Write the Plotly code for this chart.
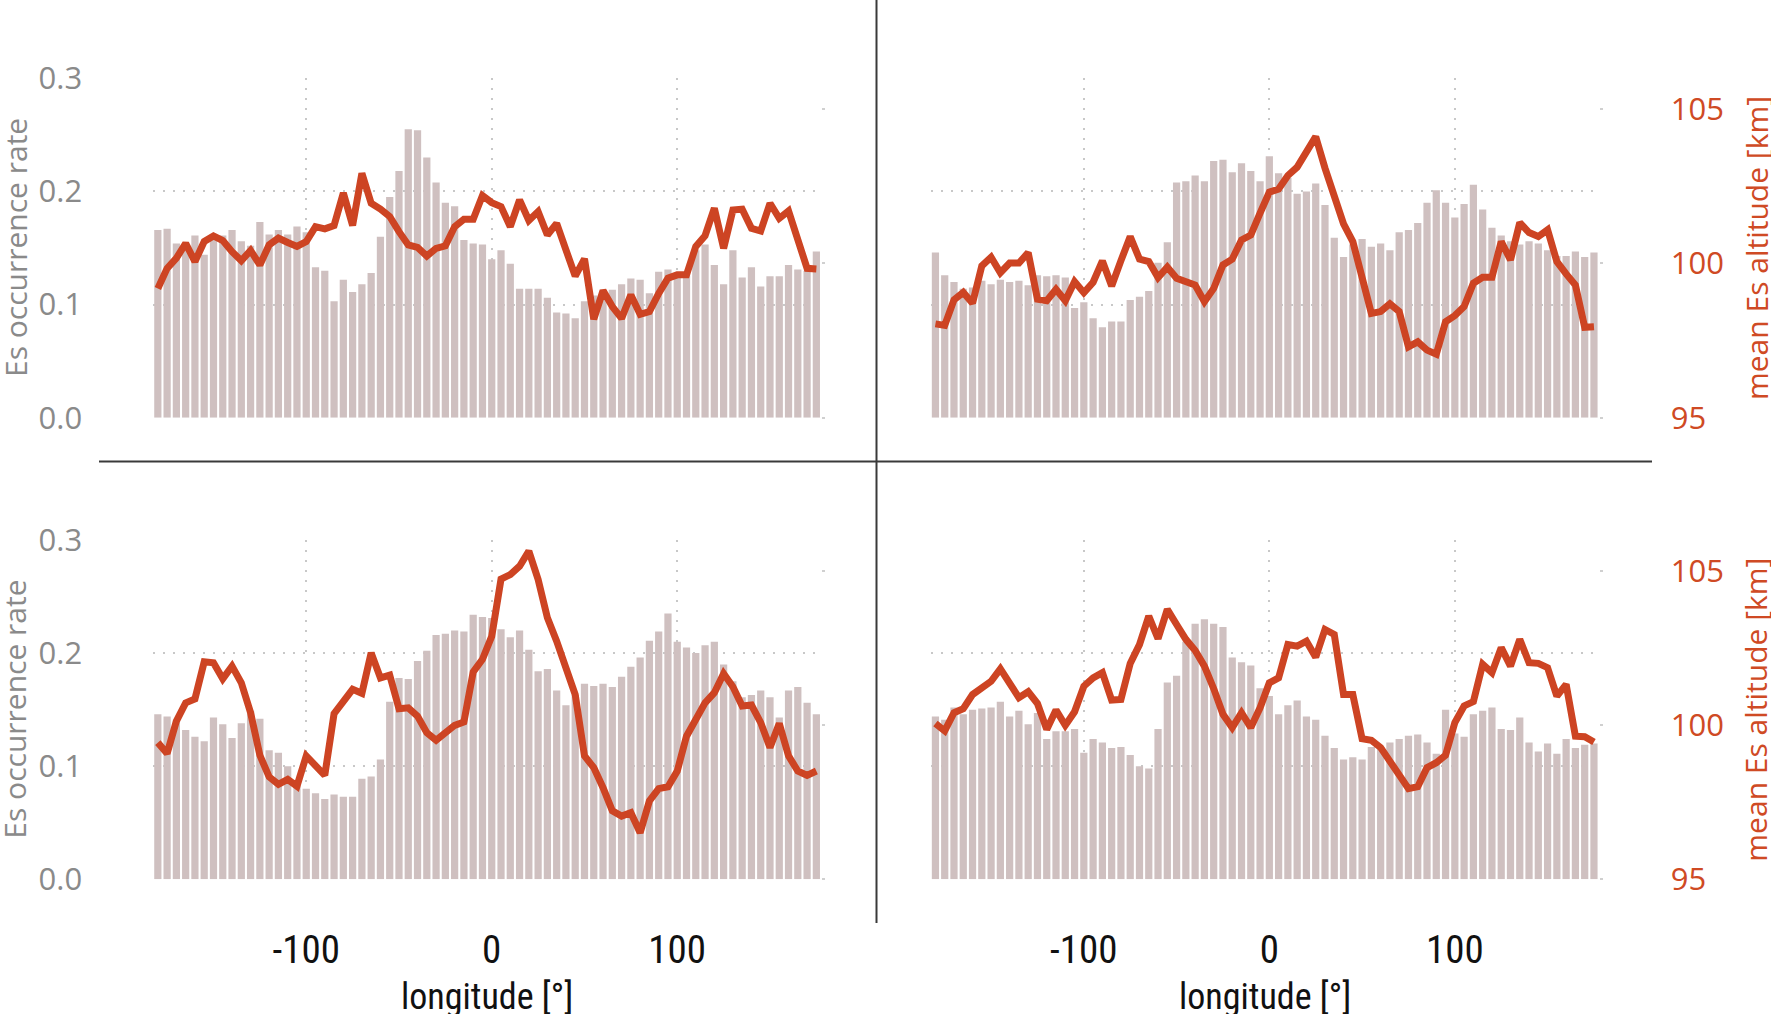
import plotly.graph_objects as go

longitude = list(range(-180, 180, 5))

# top-left panel
rate_tl = [0.166, 0.167, 0.154, 0.153, 0.161, 0.144, 0.161, 0.161, 0.166, 0.156,
           0.152, 0.173, 0.162, 0.166, 0.162, 0.169, 0.164, 0.133, 0.130, 0.103,
           0.122, 0.111, 0.118, 0.128, 0.160, 0.195, 0.218, 0.255, 0.254, 0.230,
           0.208, 0.190, 0.187, 0.157, 0.154, 0.153, 0.140, 0.148, 0.136, 0.114,
           0.114, 0.114, 0.106, 0.093, 0.092, 0.088, 0.103, 0.108, 0.108, 0.113,
           0.118, 0.123, 0.122, 0.110, 0.129, 0.131, 0.128, 0.128, 0.148, 0.153,
           0.135, 0.118, 0.148, 0.124, 0.133, 0.116, 0.125, 0.125, 0.135, 0.131,
           0.130, 0.147]
alt_tl = [99.19, 99.84, 100.17, 100.65, 100.06, 100.71, 100.89, 100.74, 100.38, 100.09,
          100.42, 99.95, 100.60, 100.82, 100.68, 100.55, 100.71, 101.19, 101.12, 101.23,
          102.28, 101.23, 102.92, 101.95, 101.76, 101.52, 101.03, 100.60, 100.52, 100.24,
          100.49, 100.57, 101.19, 101.43, 101.43, 102.20, 101.97, 101.84, 101.19, 102.06,
          101.39, 101.68, 100.92, 101.30, 100.44, 99.59, 100.15, 98.19, 99.12, 98.60,
          98.22, 98.98, 98.35, 98.44, 99.03, 99.52, 99.63, 99.63, 100.55, 100.90,
          101.79, 100.49, 101.73, 101.76, 101.14, 101.05, 101.95, 101.46, 101.70, 100.76,
          99.84, 99.82]

# top-right panel
rate_tr = [0.146, 0.126, 0.120, 0.114, 0.115, 0.121, 0.118, 0.122, 0.120, 0.121,
           0.117, 0.126, 0.125, 0.126, 0.124, 0.097, 0.102, 0.088, 0.080, 0.085,
           0.085, 0.104, 0.107, 0.112, 0.137, 0.155, 0.208, 0.209, 0.214, 0.209,
           0.227, 0.228, 0.217, 0.225, 0.218, 0.209, 0.231, 0.216, 0.212, 0.198,
           0.200, 0.207, 0.188, 0.159, 0.142, 0.153, 0.158, 0.151, 0.154, 0.148,
           0.164, 0.166, 0.172, 0.190, 0.201, 0.190, 0.177, 0.189, 0.206, 0.184,
           0.168, 0.161, 0.156, 0.153, 0.156, 0.154, 0.148, 0.143, 0.143, 0.147,
           0.142, 0.146]
alt_tr = [98.04, 97.99, 98.82, 99.06, 98.71, 99.92, 100.20, 99.70, 100.01, 100.01,
          100.35, 98.84, 98.79, 99.16, 98.79, 99.41, 99.05, 99.39, 100.08, 99.27,
          100.09, 100.87, 100.14, 100.06, 99.54, 99.88, 99.52, 99.39, 99.30, 98.76,
          99.19, 99.95, 100.14, 100.76, 100.92, 101.63, 102.31, 102.41, 102.85, 103.12,
          103.63, 104.11, 103.09, 102.11, 101.28, 100.71, 99.46, 98.38, 98.44, 98.69,
          98.44, 97.30, 97.46, 97.19, 97.06, 98.11, 98.31, 98.60, 99.36, 99.55,
          99.55, 100.71, 100.11, 101.32, 101.00, 100.87, 101.09, 100.06, 99.66, 99.30,
          97.93, 97.95]

# bottom-left panel
rate_bl = [0.146, 0.144, 0.141, 0.132, 0.126, 0.122, 0.143, 0.137, 0.125, 0.138,
           0.149, 0.142, 0.114, 0.112, 0.100, 0.086, 0.080, 0.076, 0.071, 0.075,
           0.073, 0.073, 0.089, 0.091, 0.106, 0.157, 0.178, 0.177, 0.193, 0.202,
           0.216, 0.217, 0.220, 0.219, 0.234, 0.232, 0.231, 0.221, 0.214, 0.220,
           0.203, 0.184, 0.186, 0.167, 0.154, 0.163, 0.173, 0.171, 0.173, 0.170,
           0.179, 0.188, 0.196, 0.211, 0.219, 0.235, 0.210, 0.205, 0.200, 0.207,
           0.210, 0.190, 0.175, 0.161, 0.163, 0.167, 0.161, 0.143, 0.167, 0.170,
           0.156, 0.146]
alt_bl = [99.43, 99.08, 100.13, 100.72, 100.85, 102.05, 102.02, 101.50, 101.91, 101.37,
          100.40, 99.02, 98.32, 98.08, 98.24, 98.02, 99.00, 98.67, 98.37, 100.37,
          100.78, 101.16, 101.03, 102.34, 101.53, 101.62, 100.53, 100.56, 100.29, 99.75,
          99.51, 99.75, 99.99, 100.10, 101.72, 102.13, 102.88, 104.73, 104.88, 105.15,
          105.64, 104.72, 103.48, 102.72, 101.91, 100.99, 99.00, 98.62, 97.97, 97.22,
          97.05, 97.16, 96.51, 97.54, 97.94, 98.00, 98.51, 99.64, 100.18, 100.72,
          101.05, 101.67, 101.24, 100.62, 100.65, 100.08, 99.27, 100.05, 99.00, 98.51,
          98.37, 98.51]

# bottom-right panel
rate_br = [0.144, 0.141, 0.152, 0.146, 0.150, 0.151, 0.152, 0.157, 0.144, 0.149,
           0.137, 0.147, 0.124, 0.131, 0.131, 0.133, 0.112, 0.124, 0.121, 0.116,
           0.117, 0.110, 0.100, 0.098, 0.133, 0.174, 0.180, 0.210, 0.226, 0.230,
           0.226, 0.223, 0.196, 0.192, 0.189, 0.169, 0.162, 0.146, 0.154, 0.158,
           0.144, 0.141, 0.127, 0.116, 0.106, 0.108, 0.106, 0.117, 0.117, 0.121,
           0.124, 0.127, 0.128, 0.121, 0.111, 0.150, 0.129, 0.126, 0.146, 0.149,
           0.152, 0.133, 0.132, 0.143, 0.121, 0.113, 0.120, 0.111, 0.124, 0.116,
           0.119, 0.120]
alt_br = [100.05, 99.81, 100.40, 100.53, 100.99, 101.21, 101.42, 101.82, 101.37, 100.89,
          101.08, 100.70, 99.86, 100.49, 99.99, 100.43, 101.26, 101.53, 101.70, 100.81,
          100.83, 102.00, 102.61, 103.53, 102.80, 103.75, 103.26, 102.78, 102.42, 101.91,
          101.18, 100.35, 99.92, 100.40, 99.92, 100.56, 101.37, 101.53, 102.61, 102.56,
          102.72, 102.20, 103.10, 102.94, 100.99, 100.99, 99.56, 99.51, 99.27, 98.83,
          98.46, 97.94, 98.00, 98.62, 98.78, 99.02, 100.08, 100.62, 100.76, 101.97,
          101.70, 102.51, 101.91, 102.78, 102.02, 102.00, 101.86, 100.94, 101.32, 99.64,
          99.62, 99.45]

x_ticks = [-100, 0, 100]
rate_ticks = [0.0, 0.1, 0.2, 0.3]
alt_ticks = [95, 100, 105]

y_title = "Es occurrence rate"
y2_title = "mean Es altitude [km]"
x_title = "longitude [°]"

BAR_COLOR = "#cfc0c0"
LINE_COLOR = "#cd4423"
GRAY = "#8a8a8a"
ORANGE = "#cf4a24"
GRID = "#c8c8c8"
NARROW = "Liberation Sans Narrow, Roboto Condensed, DejaVu Sans Condensed, Liberation Sans"

W, H = 1771, 1014
col_dom = [[153.2 / W, 821.0 / W], [930.8 / W, 1598.6 / W]]
row_dom = [[1 - 417.7 / H, 1 - 78.3 / H], [1 - 879.3 / H, 1 - 540.0 / H]]

panels = [
    (rate_tl, alt_tl, 0, 0),
    (rate_tr, alt_tr, 0, 1),
    (rate_bl, alt_bl, 1, 0),
    (rate_br, alt_br, 1, 1),
]

fig = go.Figure()
layout = {}
for i, (rate, alt, row, col) in enumerate(panels):
    xn = i + 1
    yb = 2 * i + 1
    yl = 2 * i + 2
    xname = "x" if xn == 1 else f"x{xn}"
    ybname = "y" if yb == 1 else f"y{yb}"
    ylname = f"y{yl}"
    fig.add_trace(go.Bar(x=longitude, y=rate, marker=dict(color=BAR_COLOR, line=dict(width=0)),
                         xaxis=xname, yaxis=ybname, showlegend=False))
    fig.add_trace(go.Scatter(x=longitude, y=alt, mode="lines",
                             line=dict(color=LINE_COLOR, width=7, shape="linear"),
                             xaxis=xname, yaxis=ylname, showlegend=False))
    bottom = row == 1
    left = col == 0
    layout["xaxis" if xn == 1 else f"xaxis{xn}"] = dict(
        domain=col_dom[col], anchor=ybname, range=[-182.5, 177.5],
        tickvals=x_ticks, ticktext=[str(v) for v in x_ticks],
        showticklabels=bottom, showgrid=True, gridcolor=GRID, griddash="2px,8px", gridwidth=2,
        zeroline=False, showline=False, ticks="", automargin=False,
        tickfont=dict(family=NARROW, size=39, color="#111111"),
        ticklabelstandoff=44,
    )
    layout["yaxis" if yb == 1 else f"yaxis{yb}"] = dict(
        domain=row_dom[row], anchor=xname, range=[0, 0.3],
        tickvals=rate_ticks, ticktext=["0.0", "0.1", "0.2", "0.3"],
        showticklabels=left, showgrid=True, gridcolor=GRID, griddash="2px,8px", gridwidth=2,
        zeroline=False, showline=False, ticks="", automargin=False,
        tickfont=dict(family="Open Sans", size=31, color=GRAY),
        ticklabelstandoff=70,
    )
    layout[f"yaxis{yl}"] = dict(
        overlaying=ybname, anchor=xname, side="right", range=[95, 106],
        tickvals=alt_ticks, ticktext=[str(v) for v in alt_ticks],
        showticklabels=not left, showgrid=False, zeroline=False, showline=False,
        ticks="outside", ticklen=3, tickwidth=2, tickcolor="#d0d0d0", automargin=False,
        tickfont=dict(family="Open Sans", size=31, color=ORANGE),
        ticklabelstandoff=62,
    )

annotations = []
for row in range(2):
    yc = (row_dom[row][0] + row_dom[row][1]) / 2
    annotations.append(dict(text=y_title, x=15 / W, y=yc, xref="paper", yref="paper",
                            textangle=-90, showarrow=False, xanchor="center", yanchor="middle",
                            font=dict(family="Open Sans", size=30, color=GRAY)))
    annotations.append(dict(text=y2_title, x=1756 / W, y=yc, xref="paper", yref="paper",
                            textangle=-90, showarrow=False, xanchor="center", yanchor="middle",
                            font=dict(family="Open Sans", size=30, color=ORANGE)))
for col in range(2):
    xc = (col_dom[col][0] + col_dom[col][1]) / 2
    annotations.append(dict(text=x_title, x=xc, y=1 - 997 / H, xref="paper", yref="paper",
                            showarrow=False, xanchor="center", yanchor="middle",
                            font=dict(family=NARROW, size=36, color="#111111")))

shapes = [
    dict(type="line", xref="paper", yref="paper", x0=876.5 / W, x1=876.5 / W,
         y0=1 - 923 / H, y1=1.0, line=dict(color="#3a3a3a", width=2)),
    dict(type="line", xref="paper", yref="paper", x0=99 / W, x1=1652 / W,
         y0=1 - 461.5 / H, y1=1 - 461.5 / H, line=dict(color="#3a3a3a", width=2)),
]

fig.update_layout(
    width=W, height=H, margin=dict(l=0, r=0, t=0, b=0, pad=0, autoexpand=False),
    paper_bgcolor="white", plot_bgcolor="white", bargap=0.22,
    annotations=annotations, shapes=shapes, showlegend=False,
    **layout,
)
fig.write_html("out.html", config={"displayModeBar": False},
               post_script="document.body.style.margin='0';document.body.style.overflow='hidden';")
